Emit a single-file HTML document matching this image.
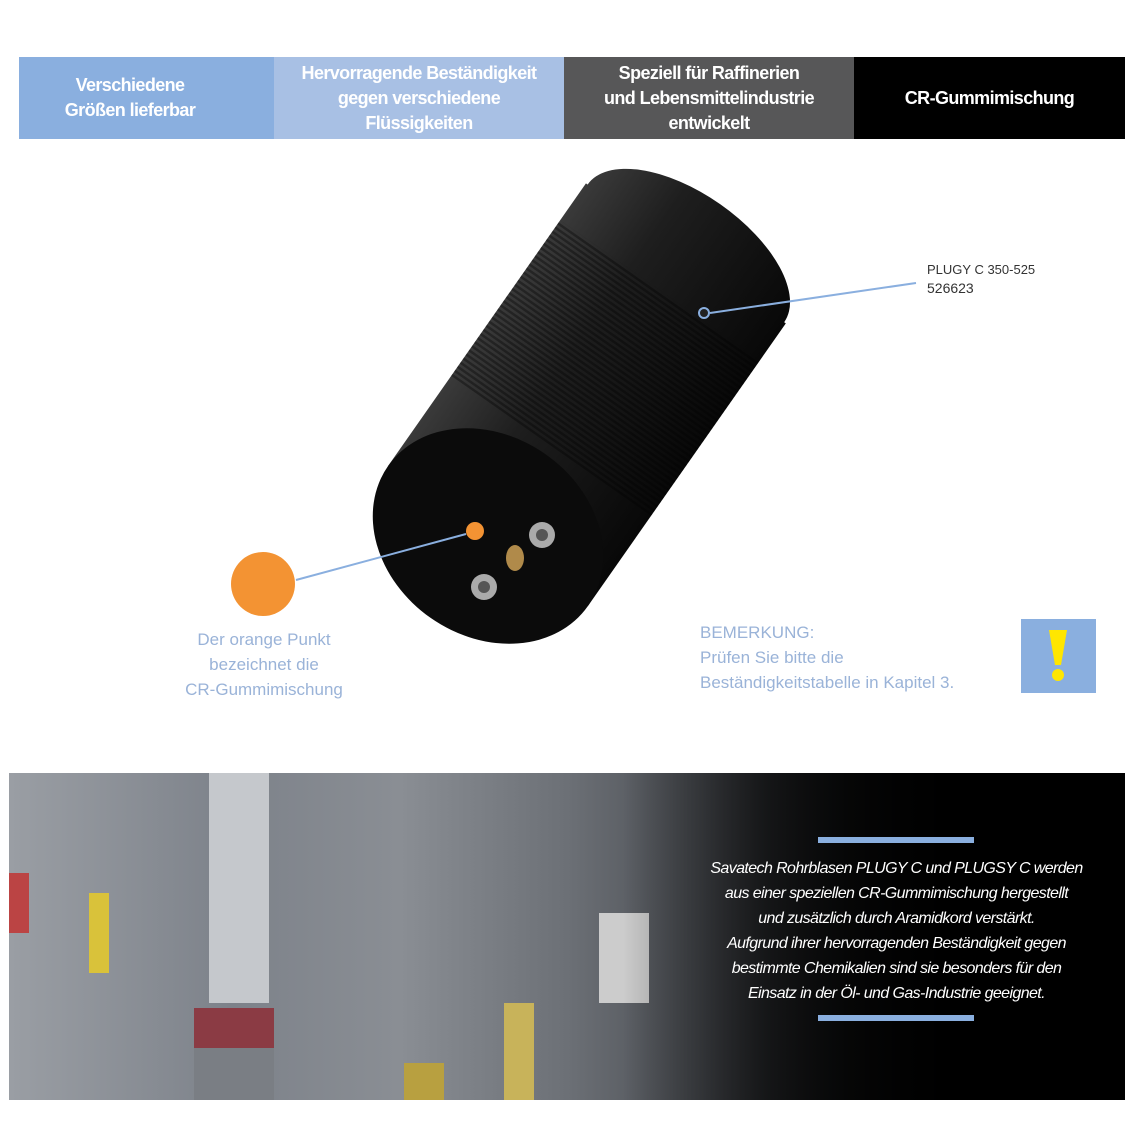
<!DOCTYPE html>
<html><head><meta charset="utf-8"><style>
body{margin:0;width:1134px;height:1134px;background:#fff;position:relative;overflow:hidden;font-family:"Liberation Sans",sans-serif}
.h{position:absolute;top:57px;height:82px;display:flex;align-items:center;justify-content:center;text-align:center;color:#fff;font-weight:bold;font-size:18px;line-height:25px;letter-spacing:-0.6px}
.t{position:absolute;color:#9ab3d8;font-size:17px;line-height:25px}
</style></head><body>
<div class="h" style="left:19px;width:222px;background:#8aafdf;padding-right:33px">Verschiedene<br>Größen lieferbar</div>
<div class="h" style="left:274px;width:290px;background:#a8c0e4">Hervorragende Beständigkeit<br>gegen verschiedene<br>Flüssigkeiten</div>
<div class="h" style="left:564px;width:290px;background:#575758">Speziell für Raffinerien<br>und Lebensmittelindustrie<br>entwickelt</div>
<div class="h" style="left:854px;width:271px;background:#000">CR-Gummimischung</div>

<svg style="position:absolute;left:0;top:0" width="1134" height="760">
<defs>
<linearGradient id="bd" gradientUnits="userSpaceOnUse" x1="0" y1="-122" x2="0" y2="122"><stop offset="0" stop-color="#3a3a3a"/><stop offset=".35" stop-color="#1e1e1e"/><stop offset="1" stop-color="#080808"/></linearGradient>
<pattern id="rib" width="5" height="5" patternUnits="userSpaceOnUse"><rect width="2.5" height="5" fill="#000" opacity=".35"/></pattern>
</defs>
<g transform="translate(488,536) rotate(-55)">
<ellipse cx="345" cy="0" rx="60" ry="120" fill="url(#bd)"/>
<rect x="0" y="-122" width="345" height="244" fill="url(#bd)"/>
<rect x="110" y="-122" width="190" height="244" fill="url(#rib)"/>
<ellipse cx="0" cy="0" rx="100" ry="122" fill="#0b0b0b"/>
</g>
<circle cx="475" cy="531" r="9" fill="#f39333"/>
<circle cx="542" cy="535" r="13" fill="#aaa"/><circle cx="542" cy="535" r="6" fill="#555"/>
<circle cx="484" cy="587" r="13" fill="#aaa"/><circle cx="484" cy="587" r="6" fill="#555"/>
<ellipse cx="515" cy="558" rx="9" ry="13" fill="#b08a4a"/>
<line x1="296" y1="580" x2="466" y2="534" stroke="#8aafdf" stroke-width="2"/>
<circle cx="263" cy="584" r="32" fill="#f39333"/>
<line x1="710" y1="313" x2="916" y2="283" stroke="#8aafdf" stroke-width="2"/>
<circle cx="704" cy="313" r="5" fill="#222" stroke="#8aafdf" stroke-width="2"/>
<rect x="1021" y="619" width="75" height="74" fill="#8aafdf"/>
<path d="M1049 630 L1067 630 L1061 665 L1055 665 Z" fill="#ffe600"/>
<circle cx="1058" cy="675" r="6" fill="#ffe600"/>
</svg>
<div style="position:absolute;left:927px;top:260px;font-size:13px;line-height:19px;color:#333">PLUGY C 350-525<br><span style="font-size:14px">526623</span></div>
<div class="t" style="left:160px;top:627px;width:208px;text-align:center">Der orange Punkt<br>bezeichnet die<br>CR-Gummimischung</div>
<div class="t" style="left:700px;top:620px">BEMERKUNG:<br>Prüfen Sie bitte die<br>Beständigkeitstabelle in Kapitel 3.</div>

<div style="position:absolute;left:9px;top:773px;width:1116px;height:327px;overflow:hidden;background:linear-gradient(90deg,#9a9ea4 0%,#7d828a 20%,#8a8e94 35%,#6c7076 50%,#4a4d52 62%,#1a1b1d 75%,#000 88%)">
<div style="position:absolute;left:200px;top:0;width:60px;height:230px;background:#c5c8cc"></div>
<div style="position:absolute;left:185px;top:235px;width:80px;height:40px;background:#8b3b44"></div>
<div style="position:absolute;left:185px;top:275px;width:80px;height:52px;background:#7a7e84"></div>
<div style="position:absolute;left:0;top:100px;width:20px;height:60px;background:#b44"></div>
<div style="position:absolute;left:80px;top:120px;width:20px;height:80px;background:#d9c23a"></div>
<div style="position:absolute;left:590px;top:140px;width:50px;height:90px;background:#ccc"></div>
<div style="position:absolute;left:495px;top:230px;width:30px;height:97px;background:#c8b35a"></div>
<div style="position:absolute;left:395px;top:290px;width:40px;height:37px;background:#b8a040"></div>
<div style="position:absolute;left:0;top:0;width:100%;height:100%;background:linear-gradient(90deg,rgba(0,0,0,0) 55%,rgba(0,0,0,.6) 68%,#000 85%)"></div>
<div style="position:absolute;left:809px;top:64px;width:156px;height:6px;background:#8aafdf"></div>
<div style="position:absolute;left:809px;top:242px;width:156px;height:6px;background:#8aafdf"></div>
<div style="position:absolute;left:690px;top:83px;width:395px;text-align:center;color:#fff;font-style:italic;font-size:16px;line-height:25px;letter-spacing:-0.6px">Savatech Rohrblasen PLUGY C und PLUGSY C werden<br>aus einer speziellen CR-Gummimischung hergestellt<br>und zusätzlich durch Aramidkord verstärkt.<br>Aufgrund ihrer hervorragenden Beständigkeit gegen<br>bestimmte Chemikalien sind sie besonders für den<br>Einsatz in der Öl- und Gas-Industrie geeignet.</div>
</div>
</body></html>
